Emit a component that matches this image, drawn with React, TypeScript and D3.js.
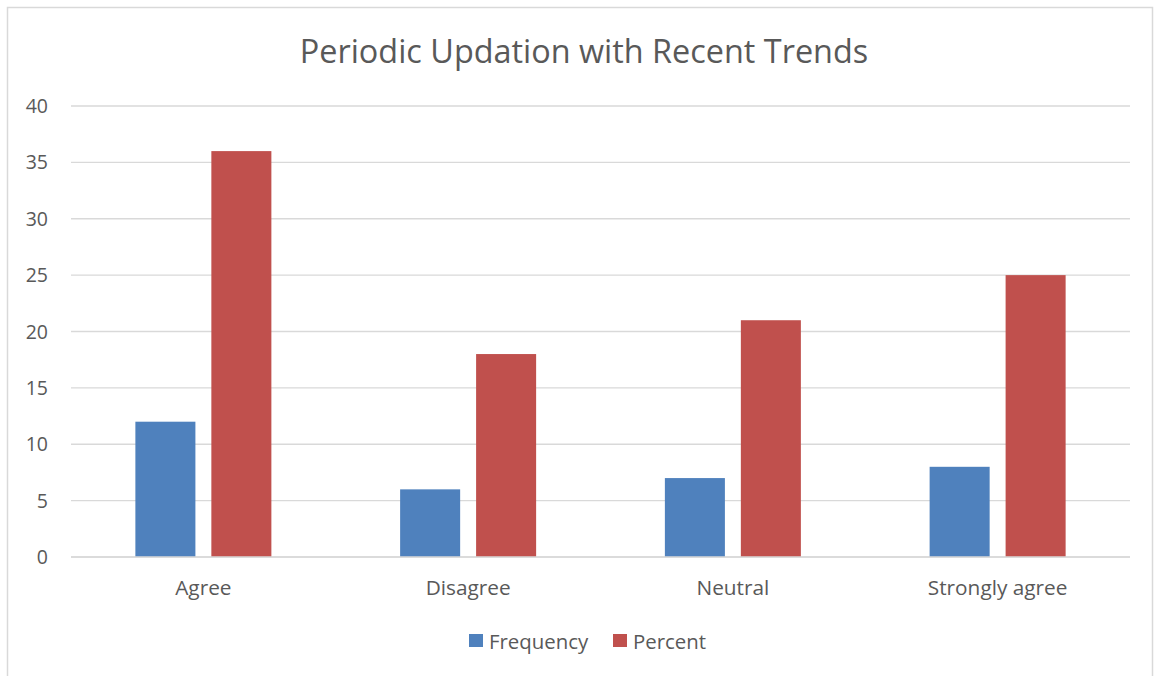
import React from "react";
import * as d3 from "d3";

const categories = ["Agree", "Disagree", "Neutral", "Strongly agree"];
const seriesNames = ["Frequency", "Percent"];
const frequency = [12, 6, 7, 8];
const percent = [36, 18, 21, 25];
const yTicks = [0, 5, 10, 15, 20, 25, 30, 35, 40];
const colors = ["#4F81BD", "#C0504D"];

export default function App() {
  const W = 1155, H = 676;
  const left = 71, right = 1130, top = 106, bottom = 557;
  const x = d3.scaleBand<string>().domain(categories).range([left, right]).paddingInner(0.4863).paddingOuter(0.24315);
  const xi = d3.scaleBand<string>().domain(seriesNames).range([0, x.bandwidth()]).paddingInner(0.21).paddingOuter(0);
  const y = d3.scaleLinear().domain([0, 40]).range([bottom, top]);
  const values = [frequency, percent];
  const font = "'Open Sans', Lato, sans-serif";
  return (
    <svg width={W} height={H} style={{ position: "absolute", left: 0, top: 0 }} fontFamily={font}>
      <rect x={0} y={0} width={W} height={H} fill="#fff" />
      <rect x={7.5} y={7.5} width={1145} height={680} fill="#fff" stroke="#d9d9d9" strokeWidth={1.5} />
      <text x={584} y={63} textAnchor="middle" fontSize={32.4} fill="#595959">Periodic Updation with Recent Trends</text>
      {yTicks.map((t) => (
        <g key={t}>
          <line x1={left} x2={right} y1={y(t)} y2={y(t)} stroke="#d9d9d9" strokeWidth={1.3} />
          <text x={48} y={y(t) + 7} textAnchor="end" fontSize={19.5} fill="#595959">{t}</text>
        </g>
      ))}
      {categories.map((c, i) => (
        <g key={c}>
          {seriesNames.map((s, j) => (
            <rect key={s} x={(x(c) ?? 0) + (xi(s) ?? 0)} y={y(values[j][i])} width={xi.bandwidth()} height={bottom - y(values[j][i])} fill={colors[j]} />
          ))}
          <text x={(x(c) ?? 0) + x.bandwidth() / 2} y={595} textAnchor="middle" fontSize={20.8} fill="#595959">{c}</text>
        </g>
      ))}
      <line x1={left} x2={right} y1={bottom} y2={bottom} stroke="#d9d9d9" strokeWidth={1.3} />
      {seriesNames.map((s, j) => {
        const lx = j === 0 ? 469 : 613;
        return (
          <g key={s}>
            <rect x={lx} y={634} width={14} height={13} fill={colors[j]} />
            <text x={lx + 20} y={648.5} fontSize={20.4} fill="#595959">{s}</text>
          </g>
        );
      })}
    </svg>
  );
}
